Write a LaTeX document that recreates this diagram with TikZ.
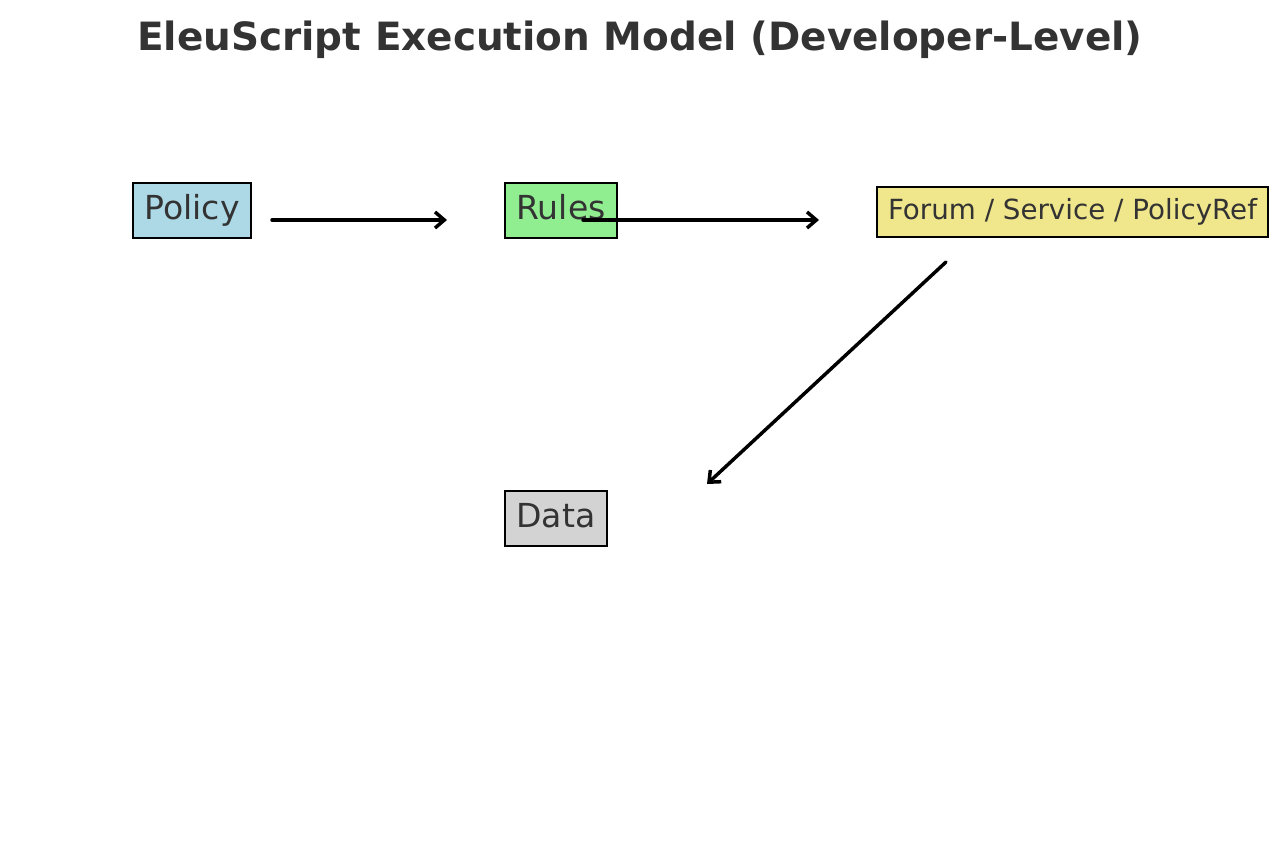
\documentclass[tikz,border=0pt]{standalone}
\usepackage{fontspec}
\setmainfont{DejaVu Sans}
\usepackage{tikz}
\usetikzlibrary{arrows.meta}
\usetikzlibrary{positioning}
\definecolor{mgray}{HTML}{333333}
\definecolor{mblue}{HTML}{ADD8E6}
\definecolor{mgreen}{HTML}{90EE90}
\definecolor{mkhaki}{HTML}{F0E68C}
\definecolor{mlight}{HTML}{D3D3D3}
\tikzset{box/.style = {draw, line width = 1.7pt, text = mgray, inner xsep = 8.5pt, inner ysep = 0, minimum height = 41.25pt, text height = 18pt, text depth = 5pt, font = \fontsize{24.8}{28}\selectfont}}
\tikzset{flow/.style = {line width = 2.6pt, line cap = round, -{Straight Barb[length = 7pt, width = 12pt, line width = 2.6pt]}}}

\begin{document}
\begin{tikzpicture}[x = 0.75pt, y = -0.75pt]
    \useasboundingbox (0, 0) rectangle (1280, 856);

    \node [text = mgray, font = \fontsize{29.2}{34}\bfseries] (title) at (640, 40) {EleuScript Execution Model (Developer-Level)};

    \node [box, fill = mblue] (policy) at (192, 210.5) {Policy};
    \node [box, fill = mgreen] (rules) at (561, 210.5) {Rules};
    \node [box, fill = mkhaki, minimum height = 37.5pt, text height = 15pt, text depth = 4pt, inner xsep = 8.5pt, font = \fontsize{20.8}{24}\selectfont] (forum) at (1072.5, 212) {Forum / Service / PolicyRef};
    \node [box, fill = mlight] (data) at (556, 518.5) {Data};

    \coordinate (a0) at (272, 220);
    \coordinate (a1) at (447, 220);
    \coordinate (b0) at (583, 220);
    \coordinate (b1) at (819, 220);
    \coordinate (c0) at (946, 262);
    \coordinate (c1) at (707, 484);

    \draw [flow] (a0) -- (a1);
    \draw [flow] (b0) -- (b1);
    \draw [flow] (c0) -- (c1);
  \end{tikzpicture}
\end{document}
